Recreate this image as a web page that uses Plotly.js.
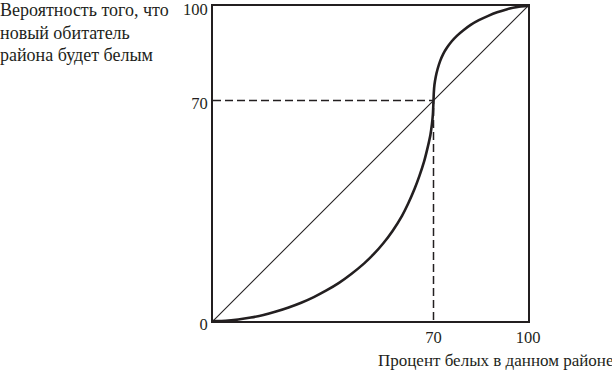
<!DOCTYPE html>
<html>
<head>
<meta charset="utf-8">
<script src="https://cdn.plot.ly/plotly-3.0.1.min.js"></script>
<style>
html,body{margin:0;padding:0;background:#fff;}
#chart{width:612px;height:371px;}
</style>
</head>
<body>
<div id="chart"></div>
<script>
// Curve: probability new resident is white vs. percent white in the district
const curveX = [0, 4, 8, 12, 16, 20, 24, 28, 32, 36, 40, 44, 48, 51, 54, 57, 60, 62, 64, 65.5, 67, 68, 69, 69.5, 69.8, 70,
                70.1, 70.3, 70.7, 71.3, 72.1, 73.1, 74.3, 75.8, 77.5, 79.5, 81.8, 84.4, 87.2, 90.2, 93.4, 96.7, 100];
const curveY = [0, 0.1, 0.5, 1.1, 1.9, 3.0, 4.3, 5.8, 7.6, 9.7, 12.1, 15.0, 18.3, 21.2, 24.6, 28.6, 33.4, 37.4, 42.0, 46.0, 50.6, 54.5, 59.0, 62.5, 65.5, 70,
                72.5, 75, 77.5, 80, 82.5, 84.8, 86.8, 88.8, 90.6, 92.3, 94.0, 95.5, 96.8, 98.0, 99.0, 99.7, 100];
// Diagonal (equal-probability line)
const diagX = [0, 100];
const diagY = [0, 100];
// Tipping point
const tipX = 70;
const tipY = 70;
// Axis ticks
const xTickVals = [70, 100];
const xTickText = ['70', '100'];
const yTickVals = [0, 70, 100];
const yTickText = ['0', '70', '100'];
// Texts
const yTitleLines = ['Вероятность того, что', 'новый обитатель', 'района будет белым'];
const xTitle = 'Процент белых в данном районе';

const ink = '#231f20';
const fam = 'Liberation Serif, DejaVu Serif, serif';
const tickFont = {family: fam, size: 16.5, color: ink};
const yTitleFont = {family: fam, size: 18, color: ink};
const xTitleFont = {family: fam, size: 17, color: ink};

const traces = [
  {x: diagX, y: diagY, mode: 'lines', line: {color: ink, width: 1.1}, cliponaxis: false, hoverinfo: 'skip'},
  {x: [0, tipX, tipX], y: [tipY, tipY, 0], mode: 'lines', line: {color: ink, width: 1.5, dash: '8px,4px'}, cliponaxis: false, hoverinfo: 'skip'},
  {x: curveX, y: curveY, mode: 'lines', line: {color: ink, width: 2.6, shape: 'spline', smoothing: 0.5}, cliponaxis: false, hoverinfo: 'skip'}
];

const annotations = yTitleLines.map((t, i) => ({
  text: t, xref: 'paper', yref: 'paper',
  x: (-2 - 213) / 315, y: (321 - (10.5 + i * 22)) / 315,
  xanchor: 'left', yanchor: 'middle', showarrow: false, font: yTitleFont
}));
annotations.push({
  text: xTitle, xref: 'paper', yref: 'paper',
  x: (615 - 213) / 315, y: (321 - 360) / 315,
  xanchor: 'right', yanchor: 'middle', showarrow: false, font: xTitleFont
});

const layout = {
  width: 612, height: 371,
  margin: {l: 213, r: 84, t: 6, b: 50, pad: 0},
  paper_bgcolor: '#fff', plot_bgcolor: '#fff',
  showlegend: false,
  font: tickFont,
  xaxis: {
    range: [0, 100], tickvals: xTickVals, ticktext: xTickText,
    showgrid: false, zeroline: false, showline: true, mirror: true,
    linecolor: ink, linewidth: 2, ticks: '', tickfont: tickFont, fixedrange: true,
    ticklabeloverflow: 'allow', automargin: false
  },
  yaxis: {
    range: [0, 100], tickvals: yTickVals, ticktext: yTickText,
    showgrid: false, zeroline: false, showline: true, mirror: true,
    linecolor: ink, linewidth: 2, ticks: '', tickfont: tickFont, fixedrange: true,
    ticklabeloverflow: 'allow', automargin: false, ticklabelshift: 3
  },
  annotations: annotations
};

Plotly.newPlot('chart', traces, layout, {staticPlot: true, displayModeBar: false});
</script>
</body>
</html>
